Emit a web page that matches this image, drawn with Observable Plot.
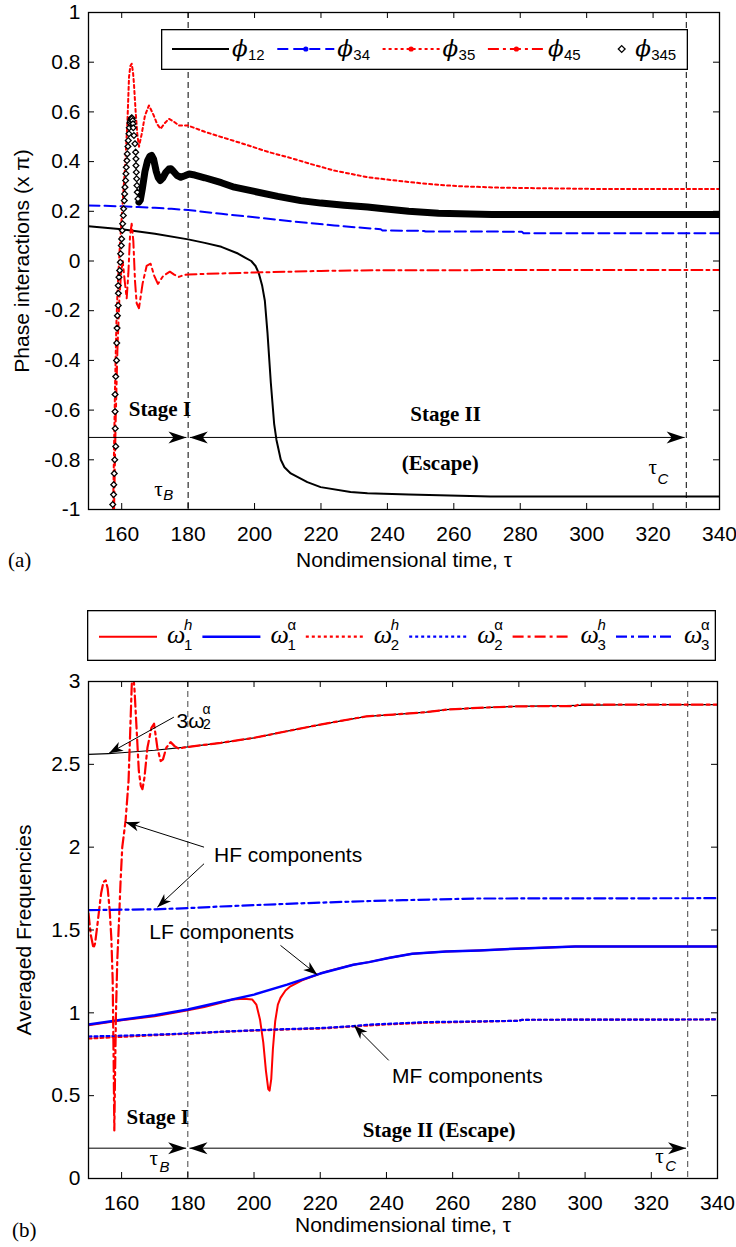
<!DOCTYPE html>
<html><head><meta charset="utf-8">
<script src="https://cdn.jsdelivr.net/npm/d3@7"></script>
<script src="https://cdn.jsdelivr.net/npm/@observablehq/plot@0.6"></script>
<style>
body{margin:0;background:#fff;}
#wrap{position:relative;width:736px;height:1247px;overflow:hidden;background:#fff;}
#wrap svg{display:block;}
.abs{position:absolute;}
.tag{position:absolute;font-family:'Liberation Serif','Times New Roman',serif;font-size:21px;line-height:21px;color:#000;}
</style></head><body><div id="wrap"></div>
<script>
// ---------------- DATA ----------------
const xTicks = [160,180,200,220,240,260,280,300,320,340];
const yTicksA = [-1,-0.8,-0.6,-0.4,-0.2,0,0.2,0.4,0.6,0.8,1];
const yTicksB = [0,0.5,1,1.5,2,2.5,3];

// panel (a): phase interactions (x pi) vs tau
const phi12 = [[150,0.14],[160,0.128],[170,0.11],[180,0.087],[185,0.073],[190,0.057],[195,0.03],[197,0.015],[199,0.0],[200.3,-0.02],[201.3,-0.05],[202.3,-0.1],[203.1,-0.16],[203.9,-0.29],[204.9,-0.49],[205.9,-0.655],[206.6,-0.72],[207.9,-0.80],[209,-0.83],[210.9,-0.855],[215.9,-0.89],[219.9,-0.91],[228.9,-0.93],[234,-0.935],[246.4,-0.94],[271,-0.948],[340,-0.948]];
const phi34 = [[150,0.223],[155,0.222],[160,0.22],[165,0.217],[170,0.214],[175,0.21],[180,0.205],[190,0.19],[200,0.176],[207,0.166],[214,0.156],[224,0.143],[234,0.132],[238,0.128],[238.5,0.123],[251,0.121],[251.5,0.119],[280.5,0.118],[281,0.112],[340,0.112]];
const phi35 = [[157.4,-1.0],[157.7,-0.75],[158.0,-0.5],[158.4,-0.25],[158.8,-0.1],[159.4,0.05],[160.2,0.216],[161.0,0.377],[161.7,0.553],[162.2,0.74],[162.6,0.785],[163.0,0.794],[163.4,0.76],[163.7,0.71],[164.2,0.6],[164.7,0.51],[165.2,0.46],[166,0.51],[167,0.585],[168.2,0.626],[169.5,0.59],[170.7,0.55],[171.7,0.532],[173,0.555],[174.2,0.572],[175.8,0.56],[177.2,0.545],[180,0.545],[185,0.52],[190.2,0.498],[197,0.47],[204.3,0.438],[210,0.418],[217,0.39],[224,0.364],[234,0.337],[247,0.317],[254,0.308],[261.5,0.301],[274,0.295],[302.5,0.29],[340,0.29]];
const phi45 = [[157.7,-1.0],[158.2,-0.63],[158.7,-0.36],[159.3,-0.15],[159.8,-0.05],[160.3,0.0],[160.9,-0.08],[161.5,-0.15],[162.0,-0.05],[162.5,0.1],[163.0,0.15],[163.5,0.08],[164.0,-0.08],[164.5,-0.17],[165.2,-0.19],[166.3,-0.09],[167.5,-0.02],[168.7,-0.011],[169.8,-0.06],[170.9,-0.092],[172.5,-0.06],[174.5,-0.043],[175.8,-0.055],[177.2,-0.064],[178.6,-0.057],[180,-0.054],[190,-0.05],[204,-0.045],[220,-0.04],[240,-0.037],[340,-0.036]];
const phi345Sparse = [[157.3,-0.98],[157.55,-0.94],[157.6,-0.90],[157.75,-0.855],[157.9,-0.80],[158.2,-0.746],[158.05,-0.674],[158.0,-0.606],[158.0,-0.537],[158.2,-0.465],[158.45,-0.40],[158.5,-0.33],[158.6,-0.27],[158.7,-0.22],[158.95,-0.179],[159.0,-0.13],[158.96,-0.099],[159.17,-0.065],[159.38,-0.038],[159.58,-0.005],[159.68,0.029],[159.88,0.062],[159.98,0.089],[160.18,0.123],[160.28,0.150],[160.48,0.183],[160.58,0.21],[160.78,0.243],[160.88,0.27],[160.98,0.297],[161.18,0.324],[161.28,0.351],[161.38,0.377],[161.58,0.404],[161.68,0.431],[161.88,0.461],[161.98,0.485],[162.18,0.512],[162.28,0.536],[162.48,0.555],[162.6,0.562],[162.78,0.568],[162.9,0.573],[163.0,0.576],[163.15,0.574],[163.3,0.565],[163.4,0.552],[163.48,0.536],[163.68,0.505],[163.98,0.472],[164.2,0.438],[164.29,0.411],[164.29,0.384],[164.39,0.357],[164.5,0.331],[164.59,0.304],[164.69,0.277],[164.89,0.25]];
const phi345Dense = [[165.19,0.237],[165.6,0.245],[166.2,0.29],[167,0.36],[167.8,0.404],[168.5,0.422],[169,0.425],[169.6,0.41],[170.4,0.36],[171,0.335],[171.6,0.324],[172.4,0.335],[173.3,0.357],[174.2,0.37],[174.8,0.371],[175.6,0.36],[176.6,0.345],[177.8,0.337],[179,0.343],[180.3,0.35],[182,0.346],[185,0.335],[190,0.315],[193.9,0.297],[200,0.28],[207,0.26],[213.9,0.243],[220,0.233],[227,0.224],[234,0.217],[238.9,0.21],[246.4,0.2],[255.4,0.192],[271.4,0.187],[340,0.187]];

// panel (b): averaged frequencies vs tau
const w1h = [[150,0.925],[160,0.955],[170,0.98],[180,1.015],[185,1.035],[190,1.06],[193.5,1.08],[197,1.085],[199.5,1.08],[200.7,1.05],[201.8,0.96],[202.8,0.82],[203.6,0.65],[204.3,0.54],[204.7,0.53],[205.2,0.6],[205.7,0.78],[206.4,0.95],[207.2,1.05],[208,1.09],[209.5,1.135],[211,1.16],[214.5,1.196],[219,1.23],[222,1.25],[230,1.29],[234.7,1.306],[241,1.333],[247.8,1.357],[258,1.37],[268,1.377],[279,1.387],[297,1.40],[340,1.40]];
const w1a = [[150,0.93],[160,0.958],[170,0.985],[180,1.02],[190,1.065],[200,1.11],[210,1.17],[220,1.237],[230,1.29],[234.7,1.306],[241,1.333],[247.8,1.357],[258,1.37],[268,1.377],[279,1.387],[297,1.40],[340,1.40]];
const w2h = [[150,0.845],[160,0.855],[170,0.865],[180,0.874],[190,0.885],[200,0.893],[210,0.9],[220,0.905],[230,0.918],[240,0.93],[252,0.94],[280,0.952],[281,0.958],[340,0.96]];
const w2a = [[150,0.857],[160,0.862],[170,0.868],[180,0.876],[190,0.886],[200,0.895],[210,0.902],[220,0.908],[230,0.92],[234,0.928],[252,0.944],[280,0.952],[281,0.958],[340,0.96]];
const w3h = [[150,1.6],[150.7,1.47],[151.5,1.39],[152,1.42],[152.8,1.55],[153.8,1.72],[154.5,1.79],[155.2,1.8],[155.8,1.75],[156.4,1.62],[156.9,1.45],[157.3,1.2],[157.6,0.7],[157.8,0.29],[158.0,0.6],[158.3,1.0],[158.7,1.32],[159.2,1.55],[159.7,1.8],[160.2,2.0],[161.2,2.16],[162.1,2.4],[162.6,2.7],[163.1,3.0],[163.5,3.05],[163.9,2.95],[164.3,2.8],[165.2,2.46],[165.8,2.37],[166.3,2.35],[166.9,2.42],[167.8,2.6],[169,2.72],[169.8,2.745],[170.8,2.6],[171.8,2.52],[172.5,2.53],[173.5,2.6],[174.8,2.634],[176,2.61],[177.3,2.594],[178.5,2.6],[180,2.605],[190,2.63],[200,2.66],[210,2.70],[220,2.74],[234,2.79],[242,2.80],[252,2.815],[258,2.83],[267.6,2.841],[279.4,2.85],[297,2.852],[298,2.86],[340,2.86]];
const w3a = [[150,1.62],[170,1.625],[180,1.632],[190,1.642],[200,1.65],[210,1.658],[220,1.665],[235,1.675],[245,1.68],[267,1.69],[340,1.692]];
const w2a3 = [[150,2.56],[156,2.565],[160,2.57],[170,2.585],[180,2.605],[190,2.63],[200,2.66],[210,2.70],[220,2.74],[234,2.79],[242,2.80],[252,2.815],[258,2.83],[267.6,2.841],[279.4,2.85],[313,2.86],[340,2.86]];

// annotations (data coordinates)
const tauLinesA = [180, 330];
const tauLinesB = [180, 331];
const stageLinesA = [{x1:150,x2:179.5,y:-0.71},{x1:180.5,x2:329.5,y:-0.71}];
const stageHeadsA = [{x:179.5,y:-0.71,a:0},{x:180.5,y:-0.71,a:180},{x:329.5,y:-0.71,a:0}];
const stageLinesB = [{x1:150,x2:179.5,y:0.183},{x1:180.5,x2:330.5,y:0.183}];
const stageHeadsB = [{x:179.5,y:0.183,a:0},{x:180.5,y:0.183,a:180},{x:330.5,y:0.183,a:0}];
const stageTextA = [{t:"Stage I",x:171.5,y:-0.622},{t:"Stage II",x:257.5,y:-0.645},{t:"(Escape)",x:255.9,y:-0.843}];
const stageTextB = [{t:"Stage I",x:170.9,y:0.326},{t:"Stage II (Escape)",x:255.9,y:0.25}];
const compText = [{t:"HF components",x:187.9,y:1.909},{t:"LF components",x:168.35,y:1.447},{t:"MF components",x:241.7,y:0.576}];
const compArrows = [
  {x1:175.8,y1:2.785,x2:156.2,y2:2.567},
  {x1:184.9,y1:2.0,x2:161.2,y2:2.151},
  {x1:184.9,y1:1.9,x2:170.8,y2:1.638},
  {x1:208,y1:1.407,x2:219.1,y2:1.23},
  {x1:240.7,y1:0.713,x2:230.2,y2:0.924}
];
const label3w = [{x:176.6,y:2.718}];

// ---------------- STYLE / LAYOUT ----------------
const W = 736;
const SANS = "'Liberation Sans', Arial, Helvetica, sans-serif";
const SERIF = "'Liberation Serif', 'Times New Roman', serif";
const RED = "#ff0000", BLUE = "#0000ff";
const dimA = {height: 590, marginTop: 12, marginBottom: 81, marginLeft: 88, marginRight: 17};
const dimB = {height: 657, marginTop: 91, marginBottom: 69, marginLeft: 88, marginRight: 19};

const seriesA = [
  {lab:"12", data:phi12, stroke:"#000", width:2, dash:null},
  {lab:"34", data:phi34, stroke:BLUE, width:2, dash:"11,5", marker:"dot"},
  {lab:"35", data:phi35, stroke:RED, width:2, dash:"3,3", marker:"dot"},
  {lab:"45", data:phi45, stroke:RED, width:2, dash:"11,4,3,4", marker:"dot"}
];
const seriesB = [
  {sup:"h", sub:"1", data:w1h, stroke:RED, width:2, dash:null},
  {sup:"α", sub:"1", data:w1a, stroke:BLUE, width:2.5, dash:null},
  {sup:"h", sub:"2", data:w2h, stroke:RED, width:2.2, dash:"3,3"},
  {sup:"α", sub:"2", data:w2a, stroke:BLUE, width:2.2, dash:"3,3"},
  {sup:"h", sub:"3", data:w3h, stroke:RED, width:2.2, dash:"11,4,3,4"},
  {sup:"α", sub:"3", data:w3a, stroke:BLUE, width:2.2, dash:"11,4,3,4"}
];

function headSymbol(L, H, N) {
  return {draw(ctx) { ctx.moveTo(0,0); ctx.lineTo(-L,-H); ctx.lineTo(-N,0); ctx.lineTo(-L,H); ctx.closePath(); }};
}
const bigHead = headSymbol(18, 6, 13);
const smallHead = headSymbol(14, 5, 10);

function frameMarks(dim, yTicks) {
  const innerH = dim.height - dim.marginTop - dim.marginBottom;
  const innerW = W - dim.marginLeft - dim.marginRight;
  return [
    Plot.tickX(xTicks, {x: d=>d, insetTop: innerH - 6, stroke:"#000", strokeWidth:1}),
    Plot.tickX(xTicks, {x: d=>d, insetBottom: innerH - 6, stroke:"#000", strokeWidth:1}),
    Plot.tickY(yTicks, {y: d=>d, insetLeft: innerW - 6, stroke:"#000", strokeWidth:1}),
    Plot.tickY(yTicks, {y: d=>d, insetRight: innerW - 6, stroke:"#000", strokeWidth:1}),
    Plot.axisX({ticks: xTicks, tickSize: 0, tickPadding: 17, tickFormat: d=>String(d), label: null, fontSize: 21}),
    Plot.axisY({ticks: yTicks, tickSize: 0, tickPadding: 8, tickFormat: d=>String(d), label: null, fontSize: 21}),
    Plot.frame({stroke:"#000", strokeWidth:1.3})
  ];
}
const lineOpts = s => ({x: d=>d[0], y: d=>d[1], stroke: s.stroke, strokeWidth: s.width, strokeDasharray: s.dash, strokeLinejoin:"round", clip: true});

// ---------------- PANEL (a) ----------------
const plotA = Plot.plot({
  width: W, ...dimA,
  x: {domain: [150, 340]},
  y: {domain: [-1, 1]},
  style: {fontFamily: SANS, fontSize: "21px", color: "#000", background: "transparent", overflow: "visible"},
  marks: [
    Plot.ruleX(tauLinesA, {x: d=>d, stroke:"#000", strokeWidth:1, strokeDasharray:"6,4"}),
    ...seriesA.map(s => Plot.line(s.data, lineOpts(s))),
    Plot.line(phi345Dense, {x: d=>d[0], y: d=>d[1], stroke:"#000", strokeWidth:7, strokeLinejoin:"round", strokeLinecap:"round", clip:true}),
    Plot.dot(phi345Sparse, {x: d=>d[0], y: d=>d[1], symbol:"diamond2", r:2.6, stroke:"#000", fill:"#fff", strokeWidth:1.3, clip:true}),
    Plot.link(stageLinesA, {x1:"x1", x2:"x2", y1:"y", y2:"y", stroke:"#000", strokeWidth:1}),
    Plot.dot(stageHeadsA, {x:"x", y:"y", rotate:"a", symbol:bigHead, fill:"#000"}),
    Plot.text(stageTextA, {x:"x", y:"y", text:"t", fontFamily:SERIF, fontWeight:"bold", fontSize:21, lineAnchor:"bottom"}),
    Plot.text([{x:169.8,y:-0.944}], {x:"x", y:"y", text:()=>"τ", fontFamily:SERIF, fontSize:21, textAnchor:"start", lineAnchor:"bottom"}),
    Plot.text([{x:169.8,y:-0.944}], {x:"x", y:"y", text:()=>"B", fontStyle:"italic", fontSize:15, textAnchor:"start", lineAnchor:"bottom", dx:9, dy:4}),
    Plot.text([{x:318.6,y:-0.856}], {x:"x", y:"y", text:()=>"τ", fontFamily:SERIF, fontSize:21, textAnchor:"start", lineAnchor:"bottom"}),
    Plot.text([{x:318.6,y:-0.856}], {x:"x", y:"y", text:()=>"C", fontStyle:"italic", fontSize:15, textAnchor:"start", lineAnchor:"bottom", dx:9, dy:10}),
    Plot.text(["Phase interactions (x π)"], {text:d=>d, frameAnchor:"left", textAnchor:"middle", rotate:-90, dx:-66, fontSize:21}),
    Plot.text(["Nondimensional time, τ"], {text:d=>d, frameAnchor:"bottom", textAnchor:"middle", dy:57, fontSize:21}),
    ...frameMarks(dimA, yTicksA)
  ]
});

// ---------------- PANEL (b) ----------------
const sB = {
  x: d3.scaleLinear([150,340],[dimB.marginLeft, W - dimB.marginRight]),
  y: d3.scaleLinear([0,3],[dimB.height - dimB.marginBottom, dimB.marginTop])
};
const compHeads = compArrows.map(a => ({x:a.x2, y:a.y2, a: Math.atan2(sB.y(a.y2)-sB.y(a.y1), sB.x(a.x2)-sB.x(a.x1))*180/Math.PI}));

const plotB = Plot.plot({
  width: W, ...dimB,
  x: {domain: [150, 340]},
  y: {domain: [0, 3]},
  style: {fontFamily: SANS, fontSize: "21px", color: "#000", background: "transparent", overflow: "visible"},
  marks: [
    Plot.ruleX(tauLinesB, {x: d=>d, stroke:"#444", strokeWidth:1, strokeDasharray:"6,4"}),
    Plot.line(seriesB[0].data, lineOpts(seriesB[0])),
    Plot.line(seriesB[1].data, lineOpts(seriesB[1])),
    Plot.line(seriesB[2].data, lineOpts(seriesB[2])),
    Plot.line(seriesB[3].data, lineOpts(seriesB[3])),
    Plot.line(w2a3, {x: d=>d[0], y: d=>d[1], stroke:"#000", strokeWidth:1.2, clip:true}),
    Plot.line(seriesB[4].data, lineOpts(seriesB[4])),
    Plot.line(seriesB[5].data, lineOpts(seriesB[5])),
    Plot.link(stageLinesB, {x1:"x1", x2:"x2", y1:"y", y2:"y", stroke:"#000", strokeWidth:1}),
    Plot.dot(stageHeadsB, {x:"x", y:"y", rotate:"a", symbol:bigHead, fill:"#000"}),
    Plot.link(compArrows, {x1:"x1", y1:"y1", x2:"x2", y2:"y2", stroke:"#000", strokeWidth:1}),
    Plot.dot(compHeads, {x:"x", y:"y", rotate:"a", symbol:smallHead, fill:"#000"}),
    Plot.text(stageTextB, {x:"x", y:"y", text:"t", fontFamily:SERIF, fontWeight:"bold", fontSize:21, lineAnchor:"bottom"}),
    Plot.text(compText, {x:"x", y:"y", text:"t", fontSize:21, textAnchor:"start", lineAnchor:"bottom"}),
    Plot.text(label3w, {x:"x", y:"y", text:()=>"3ω", fontSize:21, textAnchor:"start", lineAnchor:"bottom"}),
    Plot.text(label3w, {x:"x", y:"y", text:()=>"α", fontSize:14, textAnchor:"start", lineAnchor:"bottom", dx:26, dy:-14}),
    Plot.text(label3w, {x:"x", y:"y", text:()=>"2", fontSize:14, textAnchor:"start", lineAnchor:"bottom", dx:26.5, dy:1}),
    Plot.text([{x:168.4,y:0.079}], {x:"x", y:"y", text:()=>"τ", fontFamily:SERIF, fontSize:21, textAnchor:"start", lineAnchor:"bottom"}),
    Plot.text([{x:168.4,y:0.079}], {x:"x", y:"y", text:()=>"B", fontStyle:"italic", fontSize:15, textAnchor:"start", lineAnchor:"bottom", dx:10, dy:6.7}),
    Plot.text([{x:321.2,y:0.093}], {x:"x", y:"y", text:()=>"τ", fontFamily:SERIF, fontSize:21, textAnchor:"start", lineAnchor:"bottom"}),
    Plot.text([{x:321.2,y:0.093}], {x:"x", y:"y", text:()=>"C", fontStyle:"italic", fontSize:15, textAnchor:"start", lineAnchor:"bottom", dx:10, dy:8}),
    Plot.text(["Averaged Frequencies"], {text:d=>d, frameAnchor:"left", textAnchor:"middle", rotate:-90, dx:-64, fontSize:21}),
    Plot.text(["Nondimensional time, τ"], {text:d=>d, frameAnchor:"bottom", textAnchor:"middle", dy:53, fontSize:21}),
    ...frameMarks(dimB, yTicksB)
  ]
});

// ---------------- LEGENDS ----------------
function sample(s, x, y, w) {
  let g = "";
  if (s.stroke) g += `<line x1="${x}" y1="${y}" x2="${x+w}" y2="${y}" stroke="${s.stroke}" stroke-width="${s.width}"${s.dash?` stroke-dasharray="${s.dash}"`:""}/>`;
  if (s.marker === "dot") g += `<circle cx="${x+w/2}" cy="${y}" r="2.6" fill="${s.stroke}"/>`;
  if (s.marker === "diamond") { const c = x+w/2; g += `<path d="M${c},${y-3.4}L${c+3.4},${y}L${c},${y+3.4}L${c-3.4},${y}Z" fill="#fff" stroke="#000" stroke-width="1.3"/>`; }
  return g;
}
function legendA() {
  const w = 527, h = 41;
  let g = `<rect x="0.65" y="0.65" width="${w-1.3}" height="${h-1.3}" fill="#fff" stroke="#000" stroke-width="1.3"/>`;
  const entries = [...seriesA, {lab:"345", marker:"diamond"}];
  entries.forEach((s, i) => {
    const x0 = 11 + i*105.3;
    g += sample(s, x0, 20, 57);
    const lx = s.stroke ? x0 + 60 : x0 + 42;
    g += `<text x="${lx}" y="27" font-family="'DejaVu Serif', serif" font-style="italic" font-size="23">ϕ</text>`;
    g += `<text x="${lx+16}" y="31" font-family="${SANS}" font-size="15">${s.lab}</text>`;
  });
  return `<svg class="abs" style="left:161px;top:29px" width="${w}" height="${h}">${g}</svg>`;
}
function legendB() {
  const w = 629, h = 51;
  let g = `<rect x="0.65" y="0.65" width="${w-1.3}" height="${h-1.3}" fill="#fff" stroke="#000" stroke-width="1.3"/>`;
  seriesB.forEach((s, i) => {
    const x0 = 12 + i*103.4;
    g += sample(s, x0, 26.7, 58);
    const lx = x0 + 68;
    g += `<text x="${lx}" y="33" font-family="${SERIF}" font-style="italic" font-size="26">ω</text>`;
    g += `<text x="${lx+17}" y="20" font-family="${SANS}" font-style="${s.sup==='h'?'italic':'normal'}" font-size="15">${s.sup}</text>`;
    g += `<text x="${lx+17}" y="40" font-family="${SANS}" font-size="15">${s.sub}</text>`;
  });
  return `<svg class="abs" style="left:87px;top:610px" width="${w}" height="${h}">${g}</svg>`;
}

const wrap = document.getElementById("wrap");
plotA.style.position = "absolute"; plotA.style.left = "0px"; plotA.style.top = "0px";
plotB.style.position = "absolute"; plotB.style.left = "0px"; plotB.style.top = "590px";
wrap.appendChild(plotA);
wrap.appendChild(plotB);
wrap.insertAdjacentHTML("beforeend", legendA());
wrap.insertAdjacentHTML("beforeend", legendB());
wrap.insertAdjacentHTML("beforeend", `<div class="tag" style="left:8px;top:550px">(a)</div><div class="tag" style="left:12px;top:1220px">(b)</div>`);
</script></body></html>
